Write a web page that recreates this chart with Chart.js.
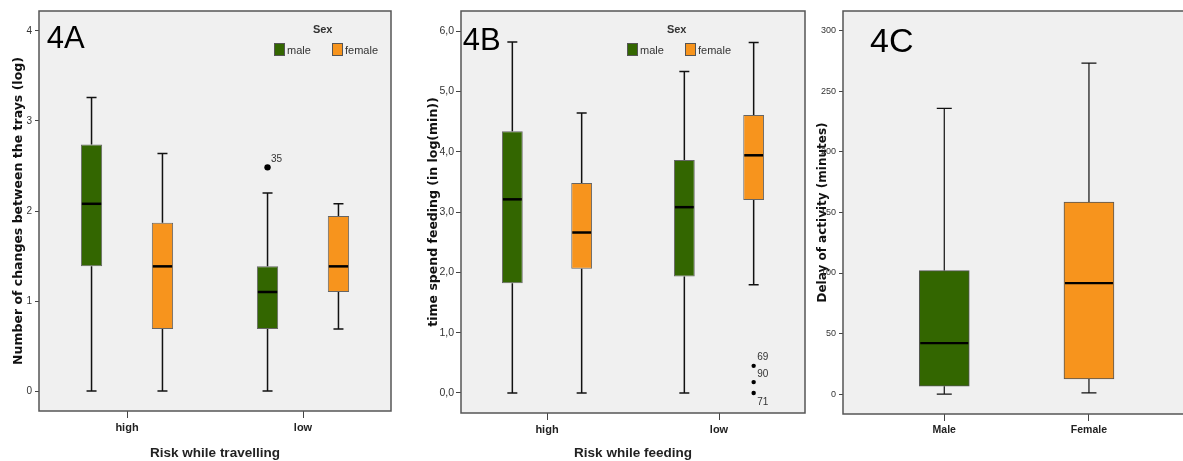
<!DOCTYPE html>
<html>
<head>
<meta charset="utf-8">
<script src="https://cdn.jsdelivr.net/npm/chart.js@4.4.1/dist/chart.umd.min.js"></script>
<style>
    html, body { margin: 0; padding: 0; background: #fff; overflow: hidden; }
    body { width: 1183px; height: 461px; position: relative; }
    canvas { position: absolute; top: 0; }
    #graficoA { left: 0; }
    #graficoB { left: 400px; }
    #graficoC { left: 810px; }
</style>
</head>
<body>
<canvas id="graficoA" width="400" height="461" style="width:400px;height:461px"></canvas>
<canvas id="graficoB" width="410" height="461" style="width:410px;height:461px"></canvas>
<canvas id="graficoC" width="373" height="461" style="width:373px;height:461px"></canvas>
<script>
// caixas: [min, Q1, mediana, Q3, max]
const aCats = ['high', 'low'];
const aMaleBox = [[0, 1.385, 2.08, 2.74, 3.26], [0, 0.69, 1.10, 1.385, 2.20]];
const aFemaleBox = [[0, 0.69, 1.385, 1.87, 2.64], [0.69, 1.10, 1.385, 1.945, 2.08]];
const aMaleOut = [[], [2.485]];
const aMaleOutLabels = [[], ['35']];
const aYTicks = [0, 1, 2, 3, 4];
const aYLabels = ['0', '1', '2', '3', '4'];

const bCats = ['high', 'low'];
const bMaleBox = [[0, 1.82, 3.21, 4.34, 5.82], [0, 1.93, 3.08, 3.86, 5.33]];
const bFemaleBox = [[0, 2.06, 2.66, 3.48, 4.64], [1.795, 3.20, 3.94, 4.61, 5.81]];
const bFemaleOut = [[], [0.45, 0.18, 0]];
const bFemaleOutLabels = [[], ['69', '90', '71']];
const bYTicks = [0, 1, 2, 3, 4, 5, 6];
const bYLabels = ['0,0', '1,0', '2,0', '3,0', '4,0', '5,0', '6,0'];

const cCats = ['Male', 'Female'];
const cBox = [[0, 6.4, 42, 102, 236], [1, 12.4, 91.6, 158.6, 273.5]];
const cYTicks = [0, 50, 100, 150, 200, 250, 300];
const cYLabels = ['0', '50', '100', '150', '200', '250', '300'];

const verde = '#336600';
const laranja = '#f7941d';
const fonteNormal = "'Liberation Sans', Arial, sans-serif";

const pluginCaixas = {
    id: 'caixas',
    beforeDatasetsDraw(chart) {
        const { ctx, chartArea: a } = chart;
        ctx.save();
        ctx.fillStyle = '#f0f0f0';
        ctx.fillRect(a.left, a.top, a.right - a.left, a.bottom - a.top);
        ctx.restore();
    },
    afterDatasetsDraw(chart, args, opts) {
        const { ctx, chartArea: a } = chart;
        const y = chart.scales.y;
        ctx.save();
        chart.data.datasets.forEach((ds, i) => {
            const meta = chart.getDatasetMeta(i);
            meta.data.forEach((bar, j) => {
                const [mn, q1, md, q3, mx] = ds.box[j];
                const x = bar.x, hw = bar.width / 2, cw = opts.cap / 2;
                const pMin = y.getPixelForValue(mn), pMax = y.getPixelForValue(mx);
                ctx.strokeStyle = '#111';
                ctx.lineWidth = opts.whisker;
                ctx.beginPath();
                ctx.moveTo(x, y.getPixelForValue(q3)); ctx.lineTo(x, pMax);
                ctx.moveTo(x, y.getPixelForValue(q1)); ctx.lineTo(x, pMin);
                ctx.moveTo(x - cw, pMax); ctx.lineTo(x + cw, pMax);
                ctx.moveTo(x - cw, pMin); ctx.lineTo(x + cw, pMin);
                ctx.stroke();
                // mediana
                const pMd = y.getPixelForValue(md);
                ctx.strokeStyle = '#000';
                ctx.lineWidth = opts.median;
                ctx.beginPath();
                ctx.moveTo(x - hw + 1, pMd); ctx.lineTo(x + hw - 1, pMd);
                ctx.stroke();
                // outliers
                const outs = (ds.out && ds.out[j]) || [];
                outs.forEach((v, k) => {
                    const py = y.getPixelForValue(v);
                    ctx.fillStyle = '#000';
                    ctx.beginPath();
                    ctx.arc(x, py, opts.dot, 0, Math.PI * 2);
                    ctx.fill();
                    const abaixo = outs.length > 1 && v === Math.min(...outs);
                    ctx.fillStyle = '#333';
                    ctx.font = '10px ' + fonteNormal;
                    ctx.textBaseline = 'alphabetic';
                    ctx.textAlign = 'left';
                    ctx.fillText(ds.outLabels[j][k], x + 3.5, abaixo ? py + 12.5 : py - 5.5);
                });
            });
        });
        // moldura
        ctx.strokeStyle = '#555';
        ctx.lineWidth = 1.5;
        ctx.beginPath();
        if (opts.openRight) {
            ctx.moveTo(a.right, a.top); ctx.lineTo(a.left, a.top);
            ctx.lineTo(a.left, a.bottom); ctx.lineTo(a.right, a.bottom);
        } else {
            ctx.rect(a.left, a.top, a.right - a.left, a.bottom - a.top);
        }
        ctx.stroke();
        // rotulo do painel
        ctx.fillStyle = '#000';
        ctx.font = opts.panel.size + 'px ' + fonteNormal;
        ctx.textAlign = 'left';
        ctx.textBaseline = 'alphabetic';
        ctx.fillText(opts.panel.text, opts.panel.x, opts.panel.y);
        // legenda
        const lg = opts.legend;
        if (lg) {
            ctx.font = 'bold 11px ' + fonteNormal;
            ctx.fillStyle = '#333';
            ctx.textAlign = 'center';
            ctx.fillText(lg.title, lg.cx, lg.ty);
            ctx.textAlign = 'left';
            ctx.font = '11px ' + fonteNormal;
            lg.xs.forEach((lx, i) => {
                const ds = chart.data.datasets[i];
                ctx.fillStyle = ds.backgroundColor;
                ctx.fillRect(lx, lg.sy, 10, 12);
                ctx.strokeStyle = '#555';
                ctx.lineWidth = 1;
                ctx.strokeRect(lx + 0.5, lg.sy + 0.5, 10, 12);
                ctx.fillStyle = '#333';
                ctx.fillText(ds.label, lx + 13, lg.sy + 10.5);
            });
        }
        ctx.restore();
    }
};

function eixoY(cfg) {
    return {
        min: cfg.min, max: cfg.max,
        afterFit: s => { s.width = cfg.width; },
        afterBuildTicks: s => { s.ticks = cfg.ticks.map(v => ({ value: v })); },
        ticks: {
            autoSkip: false,
            callback: (v, i) => cfg.labels[i],
            font: { family: fonteNormal, size: cfg.tickSize },
            color: '#333',
            padding: cfg.tickPad
        },
        grid: { display: true, drawOnChartArea: false, drawTicks: true, tickLength: cfg.tickLen, color: '#444' },
        border: { display: false },
        title: {
            display: true,
            text: cfg.title,
            color: '#111',
            font: { family: "'DejaVu Sans', sans-serif", size: cfg.titleSize, weight: 'bold' },
            padding: { top: cfg.titlePad, bottom: 0 }
        }
    };
}

function eixoX(cfg) {
    return {
        type: 'category',
        afterFit: s => { s.height = cfg.height; },
        ticks: {
            maxRotation: 0,
            font: { family: fonteNormal, size: 11, weight: 'bold' },
            color: '#222',
            padding: 3
        },
        grid: { display: true, offset: false, drawOnChartArea: false, drawTicks: true, tickLength: 7, color: '#444' },
        border: { display: false },
        title: {
            display: true,
            text: cfg.title,
            color: '#222',
            font: { family: fonteNormal, size: 13.5, weight: 'bold' },
            padding: { top: 0, bottom: 0 }
        }
    };
}

function criarGrupo(id, cats, machos, femeas, pad, y, x, extra) {
    return new Chart(document.getElementById(id), {
        type: 'bar',
        data: {
            labels: cats,
            datasets: [
                {
                    label: 'male', data: machos.box.map(b => [b[1], b[3]]),
                    backgroundColor: verde, borderColor: '#666', borderWidth: 1, borderSkipped: false,
                    categoryPercentage: 0.806, barPercentage: 0.3,
                    box: machos.box, out: machos.out, outLabels: machos.labels
                },
                {
                    label: 'female', data: femeas.box.map(b => [b[1], b[3]]),
                    backgroundColor: laranja, borderColor: '#666', borderWidth: 1, borderSkipped: false,
                    categoryPercentage: 0.806, barPercentage: 0.3,
                    box: femeas.box, out: femeas.out, outLabels: femeas.labels
                }
            ]
        },
        options: {
            responsive: false,
            animation: false,
            events: [],
            layout: { padding: pad },
            scales: { x: eixoX(x), y: eixoY(y) },
            plugins: { legend: { display: false }, tooltip: { enabled: false }, caixas: extra }
        },
        plugins: [pluginCaixas]
    });
}

criarGrupo('graficoA', aCats,
    { box: aMaleBox, out: aMaleOut, labels: aMaleOutLabels },
    { box: aFemaleBox },
    { top: 11, right: 9, left: 0, bottom: 0 },
    { min: -0.222, max: 4.222, width: 39, ticks: aYTicks, labels: aYLabels, tickSize: 10, tickPad: 3, tickLen: 4,
      title: 'Number of changes between the trays (log)', titleSize: 12.5, titlePad: 10.8 },
    { height: 50, title: 'Risk while travelling' },
    { cap: 10, whisker: 1.5, median: 2.5, dot: 3.2,
      panel: { text: '4A', x: 46.7, y: 48.3, size: 31 },
      legend: { title: 'Sex', cx: 322.7, ty: 33, sy: 43, xs: [274, 332] } });

criarGrupo('graficoB', bCats,
    { box: bMaleBox },
    { box: bFemaleBox, out: bFemaleOut, labels: bFemaleOutLabels },
    { top: 11, right: 5, left: 0, bottom: 0 },
    { min: -0.332, max: 6.332, width: 61, ticks: bYTicks, labels: bYLabels, tickSize: 10.5, tickPad: 2, tickLen: 5,
      title: 'time spend feeding (in log(min))', titleSize: 12.5, titlePad: 25.8 },
    { height: 48, title: 'Risk while feeding' },
    { cap: 10, whisker: 1.5, median: 2.5, dot: 2.2,
      panel: { text: '4B', x: 62.7, y: 49.5, size: 31 },
      legend: { title: 'Sex', cx: 276.7, ty: 33, sy: 43, xs: [227, 285] } });

// 4C: eixo x linear para reproduzir o recorte assimetrico do painel
const eixoYC = eixoY({ min: -16.5, max: 316.5, width: 33, ticks: cYTicks, labels: cYLabels, tickSize: 9, tickPad: 3, tickLen: 4,
    title: 'Delay of activity (minutes)', titleSize: 12, titlePad: 5.8 });

new Chart(document.getElementById('graficoC'), {
    type: 'bar',
    data: {
        datasets: [{
            label: 'Delay', data: cBox.map((b, i) => ({ x: i, y: [b[1], b[3]] })),
            backgroundColor: [verde, laranja], borderColor: '#555', borderWidth: 1, borderSkipped: false,
            barThickness: 50,
            box: cBox
        }]
    },
    options: {
        responsive: false,
        animation: false,
        events: [],
        layout: { padding: { top: 11, right: 0, left: 0, bottom: 0 } },
        scales: {
            x: {
                type: 'linear', min: -0.7, max: 1.65, offset: false,
                afterFit: s => { s.height = 47; },
                afterBuildTicks: s => { s.ticks = cCats.map((c, i) => ({ value: i })); },
                ticks: {
                    autoSkip: false,
                    callback: (v, i) => cCats[i],
                    font: { family: fonteNormal, size: 10.5, weight: 'bold' },
                    color: '#222',
                    padding: 3
                },
                grid: { display: true, offset: false, drawOnChartArea: false, drawTicks: true, tickLength: 7, color: '#444' },
                border: { display: false }
            },
            y: eixoYC
        },
        plugins: {
            legend: { display: false }, tooltip: { enabled: false },
            caixas: { cap: 15, whisker: 1.2, median: 2.2, dot: 2.5, openRight: true,
                panel: { text: '4C', x: 60, y: 52, size: 34 } }
        }
    },
    plugins: [pluginCaixas]
});
</script>
</body>
</html>
